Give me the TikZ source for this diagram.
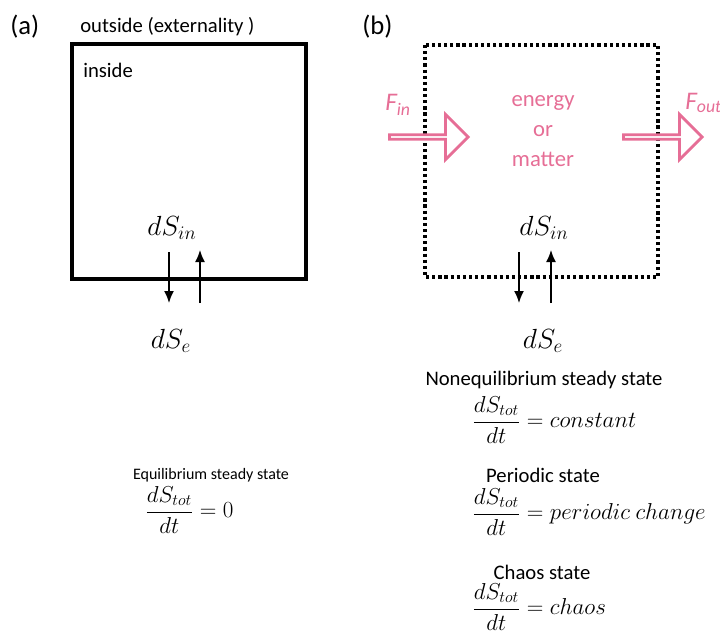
\documentclass[tikz,border=0pt]{standalone}
\usepackage{fontspec}
\usepackage{amsmath}
\setmainfont{Carlito}
\usetikzlibrary{shapes.arrows, arrows.meta}
\definecolor{flowpink}{RGB}{230,110,150}
\tikzset{
  sysbox/.style={line width=2.6pt},
  openbox/.style={line width=2.6pt, dash pattern=on 2.4pt off 2.2pt},
  flux/.style={-{Latex[length=9pt,width=7.5pt]}, line width=1.2pt},
  flowarrow/.style={single arrow, draw=flowpink, line width=2.2pt, fill=white,
    minimum width=34pt, single arrow head extend=10pt, minimum height=59pt,
    inner sep=0pt},
  flowlabel/.style={text=flowpink, font=\fontsize{19}{22}\selectfont\itshape},
  entropy/.style={font=\fontsize{22}{26}\selectfont},
  statelabel/.style={font=\fontsize{15.5}{18}\selectfont},
  rate/.style={font=\fontsize{18}{21}\selectfont, anchor=west, inner sep=0pt},
  lefttext/.style={anchor=west, inner sep=0pt}
}
\begin{document}
\begin{tikzpicture}[x=0.75pt, y=-0.75pt]
    \useasboundingbox (0,0) rectangle (720,639);
    %panel (a): closed system
    \node (lbla) at (10,27) [lefttext, font=\fontsize{20}{24}\selectfont]{(a)};
    \node (outside) at (80,27) [lefttext, font=\fontsize{15.5}{18}\selectfont]{outside (externality )};
    \draw[sysbox] (72,44) rectangle (306,279);
    \node (inside) at (83,70) [lefttext, font=\fontsize{15.5}{18}\selectfont]{inside};
    \node (dSina) at (172,228) [entropy]{$dS_{in}$};
    \node (dSea) at (171,341) [entropy]{$dS_e$};
    \coordinate (outa1) at (169,252);
    \coordinate (outa2) at (169,303);
    \coordinate (ina1) at (200,303);
    \coordinate (ina2) at (200,250);
    \draw[flux] (outa1) -- (outa2);
    \draw[flux] (ina1) -- (ina2);
    \node (eqlbl) at (211,475) [font=\fontsize{12}{14}\selectfont]{Equilibrium steady state};
    \node (eqrate) at (145,510) [rate]{$\dfrac{dS_{tot}}{dt}=0$};
    %panel (b): open system
    \node (lblb) at (362,27) [lefttext, font=\fontsize{20}{24}\selectfont]{(b)};
    \draw[openbox] (425,45) rectangle (658,277);
    \node (fin) at (388,137) [flowarrow, anchor=tail]{};
    \node (fout) at (622,137) [flowarrow, anchor=tail]{};
    \node (finlbl) at (385,105) [lefttext, flowlabel]{F\textsubscript{in}};
    \node (foutlbl) at (685,103) [lefttext, flowlabel]{F\textsubscript{out}};
    \node (matter) at (543,131) [text=flowpink, align=center, font=\fontsize{17}{22.5}\selectfont]{energy\\or\\matter};
    \node (dSinb) at (544,228) [entropy]{$dS_{in}$};
    \node (dSeb) at (543,341) [entropy]{$dS_e$};
    \coordinate (outb1) at (519,252);
    \coordinate (outb2) at (519,303);
    \coordinate (inb1) at (551,303);
    \coordinate (inb2) at (551,250);
    \draw[flux] (outb1) -- (outb2);
    \draw[flux] (inb1) -- (inb2);
    \node (neqlbl) at (544,380) [statelabel]{Nonequilibrium steady state};
    \node (neqrate) at (472,420) [rate]{$\dfrac{dS_{tot}}{dt}=constant$};
    \node (perlbl) at (543,475) [statelabel]{Periodic state};
    \node (perrate) at (472,512) [rate]{$\dfrac{dS_{tot}}{dt}=periodic\ change$};
    \node (chlbl) at (542,572) [statelabel]{Chaos state};
    \node (chrate) at (472,607) [rate]{$\dfrac{dS_{tot}}{dt}=chaos$};
\end{tikzpicture}
\end{document}
